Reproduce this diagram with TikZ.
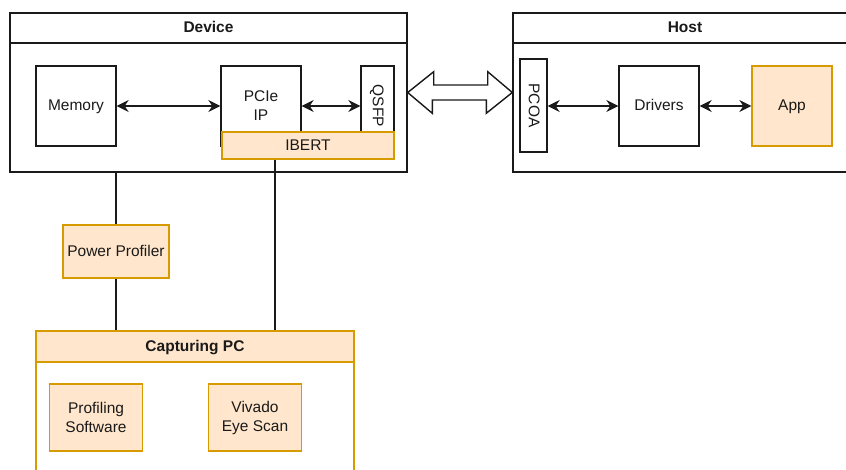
\documentclass[tikz,border=0pt]{standalone}
\usepackage{fontspec}
\setmainfont{Liberation Sans}
\usetikzlibrary{arrows.meta,calc}
\definecolor{orgfill}{HTML}{FFE6CC}
\definecolor{orgline}{HTML}{D79B00}
\definecolor{ink}{HTML}{1A1A1A}
\tikzset{
  txt/.style={font=\fontsize{15.5}{19}\selectfont, text=ink},
  oneline/.style={text height=11pt, text depth=1.5pt},
  box/.style={txt, draw=ink, fill=white, line width=1.4pt, inner sep=0pt, align=center},
  obox/.style={box, draw=orgline, fill=orgfill},
  hdr/.style={box, oneline, font=\fontsize{15.5}{19}\selectfont\bfseries},
  ohdr/.style={hdr, draw=orgline, fill=orgfill},
  link/.style={draw=ink, line width=1.4pt},
  biarrow/.style={link, {Stealth[length=12pt,width=12pt,inset=4pt]}-{Stealth[length=12pt,width=12pt,inset=4pt]}},
}
\begin{document}
\begin{tikzpicture}[x=1pt,y=-1pt]
\useasboundingbox (0,0) rectangle (846,470);
\clip (0,0) rectangle (846,470);

% ---------- Device ----------
\node[box, minimum width=397pt, minimum height=159pt] (dev) at (208.5,92.5) {};
\node[hdr, minimum width=397pt, minimum height=30pt] (devhead) at (208.5,28) {Device};
\node[box, oneline, minimum width=80pt, minimum height=80pt] (mem) at (76,106) {Memory};
\node[box, minimum width=80pt, minimum height=80pt] (pcie) at (261,106) {PCIe\\IP};
\node[box, minimum width=33pt, minimum height=80pt] (qsfp) at (377.5,106) {};
\node[txt, oneline, rotate=-90] (qsfptxt) at (qsfp.center) {QSFP};
\node[obox, oneline, minimum width=172pt, minimum height=27pt] (ibert) at (308,145.5) {IBERT};

\draw[biarrow] (mem) -- (pcie);
\draw[biarrow] (pcie) -- (qsfp);

% ---------- Host ----------
\node[box, minimum width=344pt, minimum height=159pt] (host) at (685,92.5) {};
\node[hdr, minimum width=344pt, minimum height=30pt] (hosthead) at (685,28) {Host};
\node[box, minimum width=27pt, minimum height=93pt] (pcoa) at (533.5,105.5) {};
\node[txt, oneline, rotate=-90] (pcoatxt) at (pcoa.center) {PCOA};
\node[box, oneline, minimum width=80pt, minimum height=80pt] (drv) at (659,106) {Drivers};
\node[obox, oneline, minimum width=80pt, minimum height=80pt] (app) at (792,106) {App};

\draw[biarrow] (pcoa.east |- drv) -- (drv);
\draw[biarrow] (drv) -- (app);

% ---------- wide link between device and host ----------
\draw[link, fill=white, line join=miter]
  (dev.east) -- ++(26,-20.8) -- ++(0,13.3) -- ++(54,0) -- ++(0,-13.3)
  -- (host.west) -- ++(-26,20.8) -- ++(0,-13.3) -- ++(-54,0) -- ++(0,13.3) -- cycle;

% ---------- Capturing PC ----------
\node[box, draw=orgline, minimum width=318pt, minimum height=189pt] (cap) at (195,425.5) {};
\node[ohdr, minimum width=318pt, minimum height=31pt] (caphead) at (195,346.5) {Capturing PC};
\node[obox, minimum width=93pt, minimum height=67pt] (prof) at (96,417.5) {Profiling\\Software};
\node[obox, minimum width=93pt, minimum height=67pt] (eye) at (255,417.5) {Vivado\\Eye Scan};

% ---------- Power profiler and measurement lines ----------
\node[obox, oneline, minimum width=106pt, minimum height=53pt] (pp) at (116,251.5) {Power Profiler};
\draw[link] (pp.north |- dev.south) -- (pp.north);
\draw[link] (pp.south) -- (pp.south |- caphead.north);
\path (ibert.south) ++(-33,0) coordinate (tap);
\draw[link] (tap) -- (tap |- caphead.north);
\end{tikzpicture}
\end{document}
